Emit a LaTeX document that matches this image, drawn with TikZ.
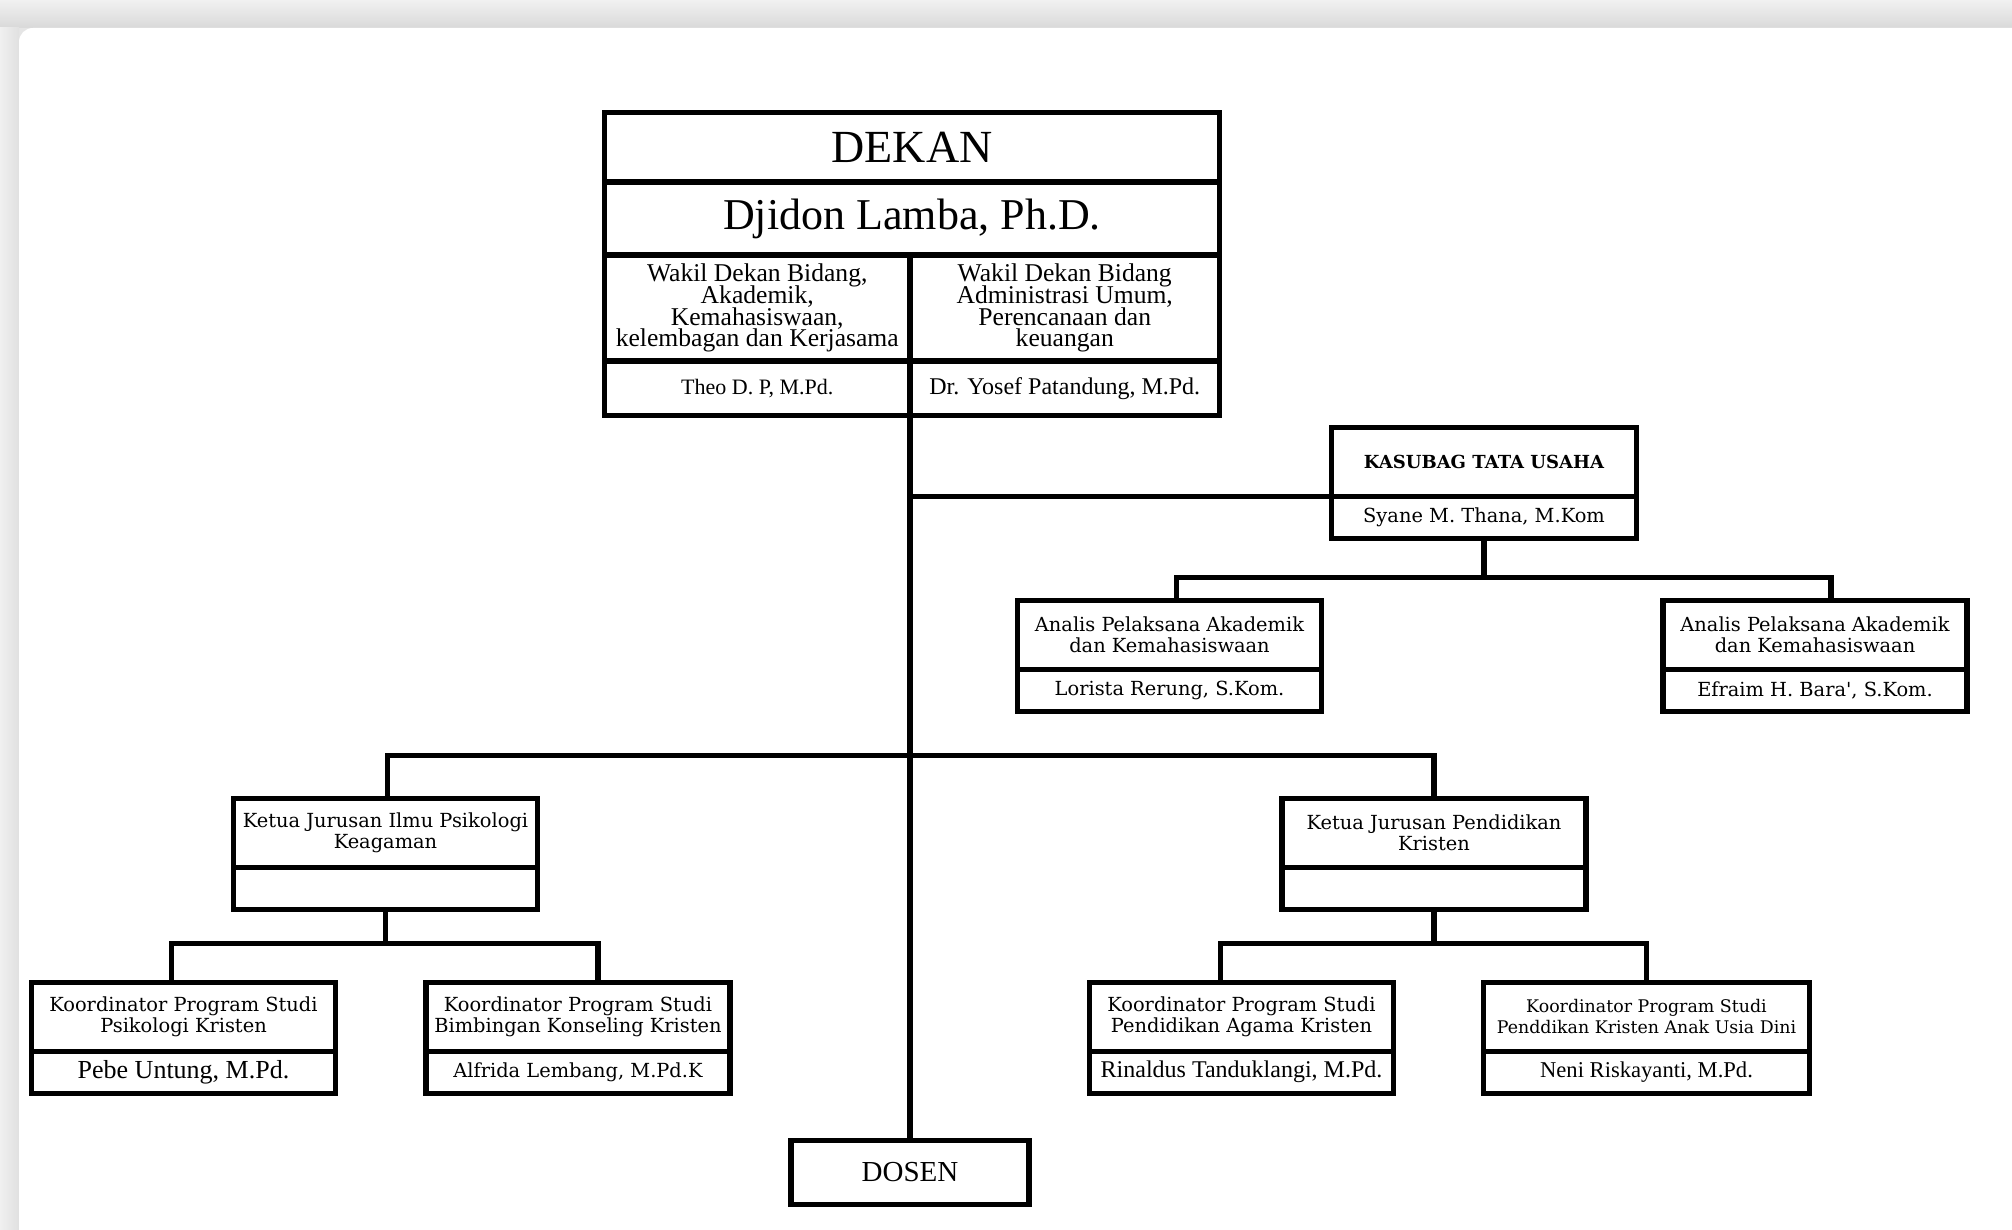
\documentclass[tikz,border=0pt]{standalone}
\usepackage{fontspec}
\setmainfont{Liberation Serif}
\newfontfamily\slabfont{DejaVu Serif}
\usetikzlibrary{positioning}
\newcommand\wakilfont{\fontsize{12.8}{10.9}\selectfont\lineskiplimit=-20pt\relax}

\tikzset{
  box/.style={draw, line width=2.6pt, outer sep=0pt, inner sep=1pt, align=center, fill=white},
  titlebox/.style={box, minimum width=152pt, minimum height=34.5pt,
    font=\slabfont\fontsize{9.7}{10.3}\selectfont},
  namebox/.style={box, minimum width=152pt, minimum height=21pt,
    font=\slabfont\fontsize{9.7}{11}\selectfont},
  wakilbox/.style={box, inner sep=0.5pt, minimum height=53pt, font=\wakilfont},
  link/.style={line width=2.6pt},
}

\begin{document}
\begin{tikzpicture}[x=0.5pt,y=0.5pt]
  \useasboundingbox (0,0) rectangle (2012,1230);
  % page background and card
  \fill[gray!20] (0,0) rectangle (2012,1230);
  \shade[top color=gray!11, bottom color=gray!30] (0,1202) rectangle (2012,1230);
  \shade[left color=gray!12, right color=gray!24] (0,0) rectangle (19,1202);
  \fill[white, rounded corners=7pt] (19,-40) rectangle (2060,1202);

  % dekan and wakil dekan
  \node[box, font=\fontsize{23}{26}\selectfont, minimum width=307.5pt, minimum height=34.75pt] (dekan) at (912,1082.75) {DEKAN};
  \node[box, font=\fontsize{22}{25}\selectfont, minimum width=307.5pt, minimum height=36.5pt, anchor=north] (djidon) at (dekan.south) {Djidon Lamba, Ph.D.};
  \node[wakilbox, minimum width=152.75pt, anchor=north west] (wakilA) at (djidon.south west) {Wakil Dekan Bidang,\\Akademik,\\Kemahasiswaan,\\kelembagan dan Kerjasama};
  \node[wakilbox, minimum width=154.75pt, anchor=north west] (wakilB) at (wakilA.north east) {Wakil Dekan Bidang\\Administrasi Umum,\\Perencanaan dan\\keuangan};
  \node[box, font=\fontsize{11}{13}\selectfont, minimum width=152.75pt, minimum height=27.25pt, anchor=north] (theo) at (wakilA.south) {Theo D. P, M.Pd.};
  \node[box, font=\fontsize{12}{14}\selectfont, minimum width=154.75pt, minimum height=27.25pt, anchor=north] (yosef) at (wakilB.south) {Dr. Yosef Patandung, M.Pd.};

  % tata usaha
  \node[titlebox, font=\slabfont\bfseries\fontsize{9}{11}\selectfont, minimum width=152.5pt] (kasubag) at (1484,767.75) {KASUBAG TATA USAHA};
  \node[namebox, minimum width=152.5pt, anchor=north] (syane) at (kasubag.south) {Syane M. Thana, M.Kom};
  \node[titlebox] (analisL) at (1169.5,595.25) {Analis Pelaksana Akademik\\dan Kemahasiswaan};
  \node[namebox, anchor=north] (lorista) at (analisL.south) {Lorista Rerung, S.Kom.};
  \node[titlebox] (analisR) at (1815,595.25) {Analis Pelaksana Akademik\\dan Kemahasiswaan};
  \node[namebox, anchor=north] (efraim) at (analisR.south) {Efraim H. Bara', S.Kom.};

  % jurusan
  \node[titlebox] (ketuaL) at (385.5,397.25) {Ketua Jurusan Ilmu Psikologi\\Keagaman};
  \node[namebox, anchor=north] (ketuaLn) at (ketuaL.south) {};
  \node[titlebox] (ketuaR) at (1434,397.25) {Ketua Jurusan Pendidikan\\Kristen};
  \node[namebox, anchor=north] (ketuaRn) at (ketuaR.south) {};

  % program studi
  \node[titlebox] (kpk) at (183.5,213.25) {Koordinator Program Studi\\Psikologi Kristen};
  \node[namebox, font=\fontsize{13}{15}\selectfont, anchor=north] (pebe) at (kpk.south) {Pebe Untung, M.Pd.};
  \node[titlebox] (kbk) at (578,213.25) {Koordinator Program Studi\\Bimbingan Konseling Kristen};
  \node[namebox, anchor=north] (alfrida) at (kbk.south) {Alfrida Lembang, M.Pd.K};
  \node[titlebox] (pak) at (1241.5,213.25) {Koordinator Program Studi\\Pendidikan Agama Kristen};
  \node[namebox, font=\fontsize{12}{14}\selectfont, anchor=north] (rinaldus) at (pak.south) {Rinaldus Tanduklangi, M.Pd.};
  \node[titlebox, font=\slabfont\fontsize{8.7}{10.3}\selectfont, minimum width=163pt] (pkaud) at (1646.5,213.25) {Koordinator Program Studi\\Penddikan Kristen Anak Usia Dini};
  \node[namebox, font=\fontsize{11.3}{13}\selectfont, minimum width=163pt, anchor=north] (neni) at (pkaud.south) {Neni Riskayanti, M.Pd.};

  \node[box, font=\fontsize{14.5}{16}\selectfont, minimum width=119pt, minimum height=32pt] (dosen) at (910,57.5) {DOSEN};

  % garis
  \draw[link] (theo.south east) -- (dosen.north);
  \draw[link] (kasubag.south west) -- (kasubag.south west -| dosen.north);
  \draw[link] (syane.south) -- ++(0,-38.5) coordinate (tub);
  \draw[link] ([xshift=3.5pt]analisL.north) |- (tub) -| ([xshift=8pt]analisR.north);
  \draw[link] ([xshift=1pt]ketuaL.north) -- ++(0,42.5) -| (ketuaR.north);
  \draw[link] (ketuaLn.south) -- ++(0,-34.5) coordinate (jl);
  \draw[link] ([xshift=-6pt]kpk.north) |- (jl) -| ([xshift=10pt]kbk.north);
  \draw[link] (ketuaRn.south) -- ++(0,-34.5) coordinate (jr);
  \draw[link] ([xshift=-10.5pt]pak.north) |- (jr) -| (pkaud.north);
\end{tikzpicture}
\end{document}
